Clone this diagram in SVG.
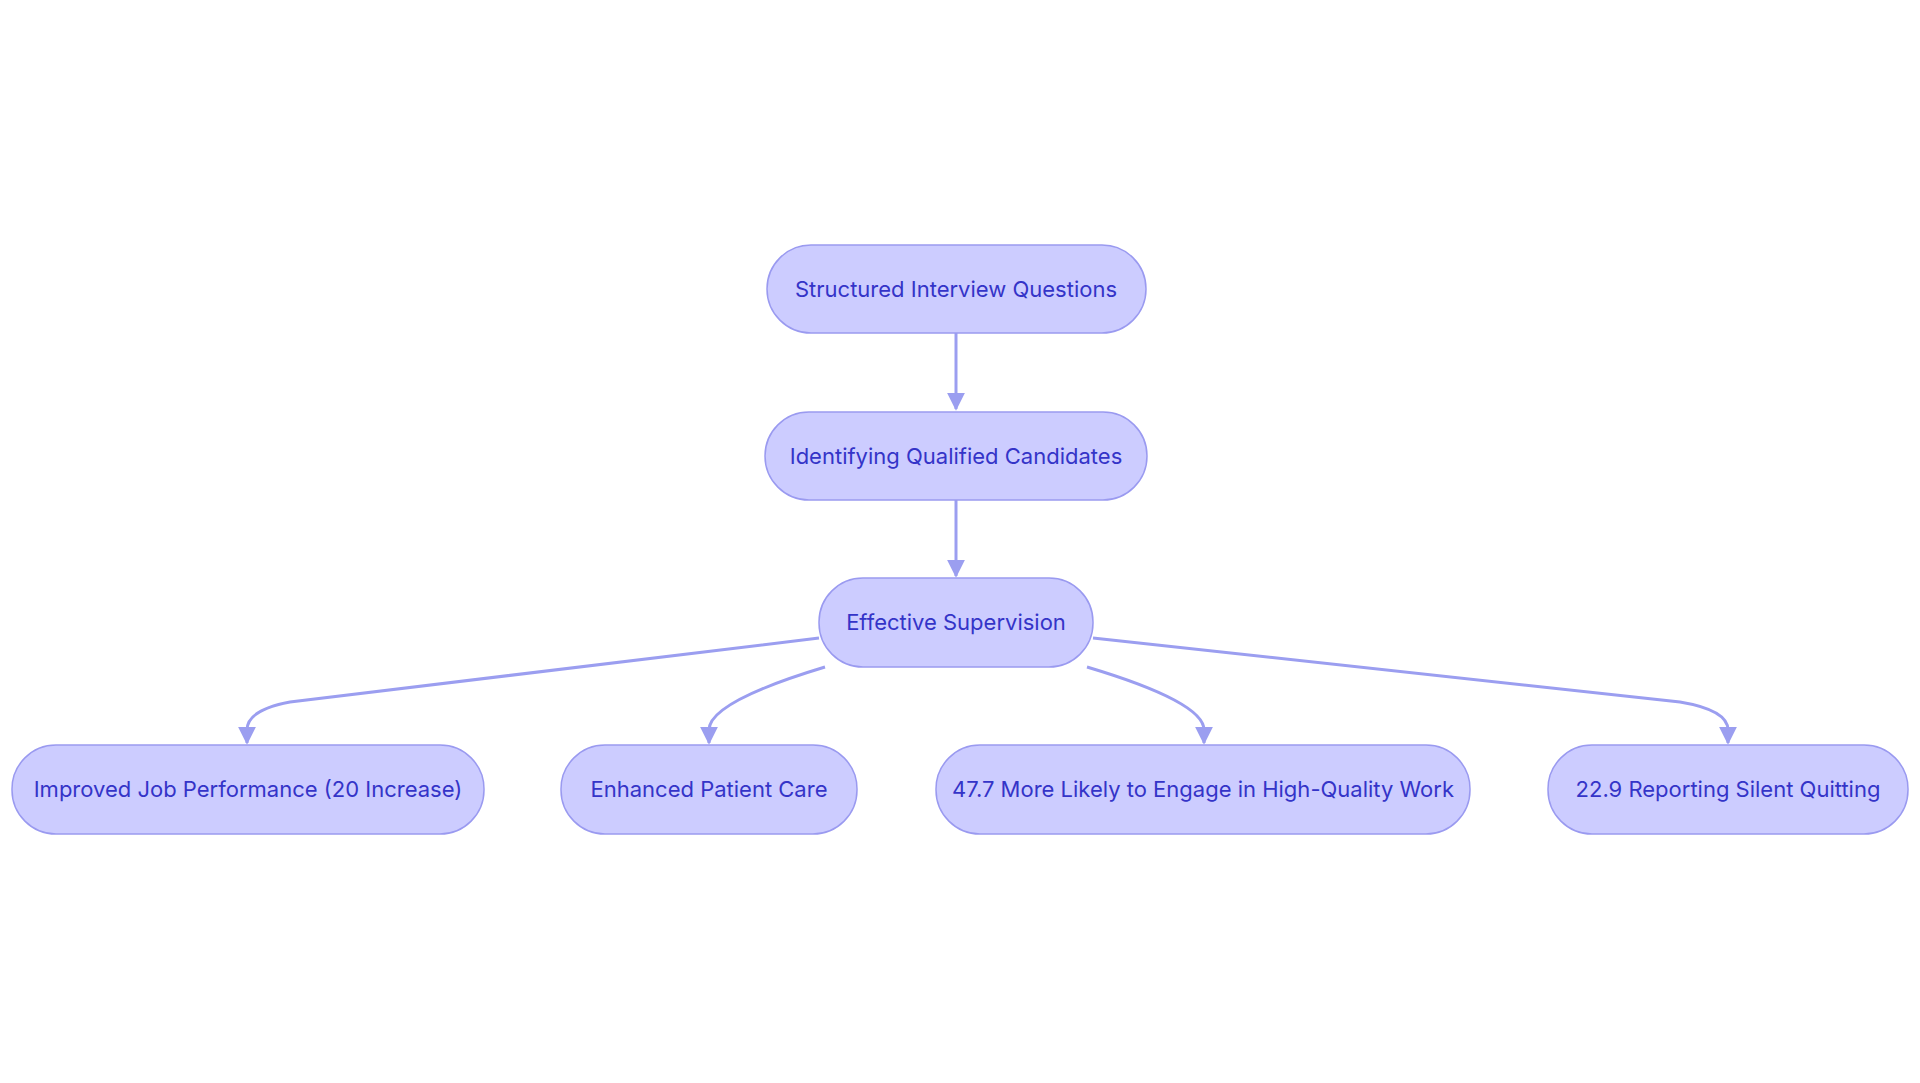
<svg xmlns="http://www.w3.org/2000/svg" width="1920" height="1083" viewBox="0 0 1920 1083">
<style>
.n rect{fill:#ccccff;stroke:#9a9af0;stroke-width:1.5}
.n text{font-family:Inter,"Liberation Sans",sans-serif;font-size:22px;fill:#3434c8;text-anchor:middle;dominant-baseline:central}
.e path{fill:none;stroke:#9b9ef0;stroke-width:3}
</style>
<defs><marker id="a" viewBox="0 0 10 10" refX="9" refY="5" markerWidth="6" markerHeight="6" markerUnits="strokeWidth" orient="auto"><path d="M0,0L10,5L0,10z" fill="#9b9ef0"/></marker></defs>
<rect width="1920" height="1083" fill="#fff"/>
<g class="e">
<path d="M956,333V409" marker-end="url(#a)"/>
<path d="M956,500V576" marker-end="url(#a)"/>
<path d="M819,638L290,702Q247,710 247,730V743" marker-end="url(#a)"/>
<path d="M825,667Q709,702 709,730V743" marker-end="url(#a)"/>
<path d="M1087,667Q1204,702 1204,730V743" marker-end="url(#a)"/>
<path d="M1093,638L1680,702Q1728,710 1728,730V743" marker-end="url(#a)"/>
</g>
<g id="n1" class="n"><rect x="767" y="245" width="379" height="88" rx="44"/><text x="956" y="289">Structured Interview Questions</text></g>
<g id="n2" class="n"><rect x="765" y="412" width="382" height="88" rx="44"/><text x="956" y="456">Identifying Qualified Candidates</text></g>
<g id="n3" class="n"><rect x="819" y="578" width="274" height="89" rx="44"/><text x="956" y="622">Effective Supervision</text></g>
<g id="b1" class="n"><rect x="12" y="745" width="472" height="89" rx="44"/><text x="248" y="789">Improved Job Performance (20 Increase)</text></g>
<g id="b2" class="n"><rect x="561" y="745" width="296" height="89" rx="44"/><text x="709" y="789">Enhanced Patient Care</text></g>
<g id="b3" class="n"><rect x="936" y="745" width="534" height="89" rx="44"/><text x="1203" y="789">47.7 More Likely to Engage in High-Quality Work</text></g>
<g id="b4" class="n"><rect x="1548" y="745" width="360" height="89" rx="44"/><text x="1728" y="789">22.9 Reporting Silent Quitting</text></g>
</svg>
